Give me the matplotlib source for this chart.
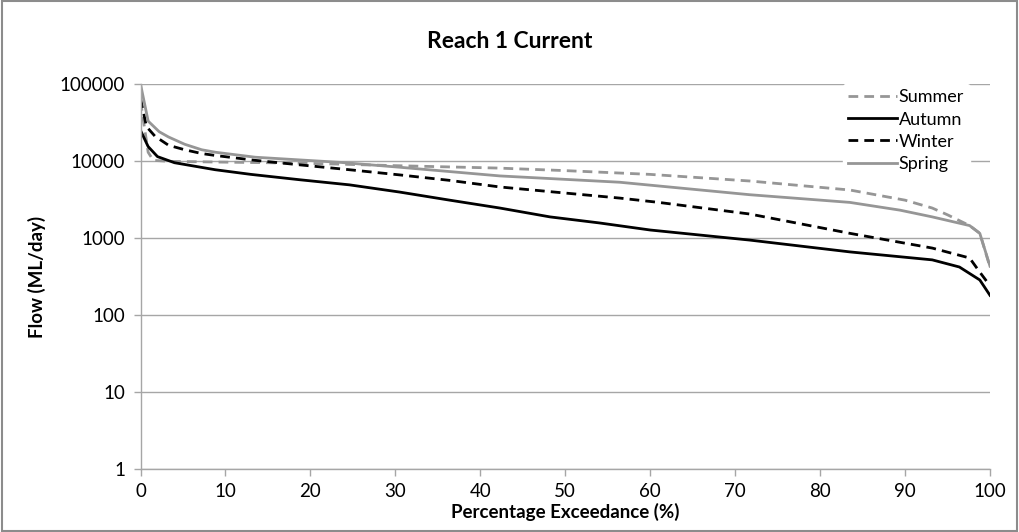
import matplotlib
matplotlib.use("Agg")
import matplotlib.pyplot as plt
from matplotlib.patches import Rectangle
from matplotlib.ticker import FixedLocator, FixedFormatter

plt.rcParams['font.family'] = ['Lato', 'DejaVu Sans']

# Flow duration curves (x = % exceedance, y = ML/day)
summer_x = [0, 0.9, 1.5, 3.3, 8.8, 15, 20, 23.5, 30, 42, 50, 60, 71.7, 83.5, 90, 93.2, 95, 97.6, 98.8, 100]
summer_y = [60000, 13000, 10200, 9900, 9700, 9500, 9300, 9100, 8700, 8100, 7500, 6700, 5500, 4200, 3100, 2450, 2000, 1450, 1150, 420]

autumn_x = [0, 0.9, 2, 4, 8.8, 13, 18.8, 24.6, 30.5, 36.4, 42.3, 48.2, 54, 60, 71.7, 83.5, 93.2, 96.4, 98.8, 100]
autumn_y = [25000, 15400, 11400, 9500, 7700, 6700, 5700, 4900, 3950, 3100, 2450, 1880, 1570, 1270, 940, 660, 520, 420, 285, 180]

winter_x = [0, 0.7, 1.7, 3.3, 5.2, 7.2, 8.8, 13.5, 18.8, 24.6, 30.5, 36.4, 42.3, 48.2, 56.4, 61, 71.7, 83.5, 93.2, 97.6, 98.8, 100]
winter_y = [65000, 28000, 21000, 16000, 14000, 12500, 11800, 10200, 8900, 7700, 6600, 5600, 4600, 4000, 3300, 2900, 2050, 1150, 740, 550, 360, 240]

spring_x = [0, 0.9, 2.2, 3.3, 5.2, 7.2, 8.8, 13.5, 23.5, 30.5, 42.3, 56.4, 71.7, 83.5, 89.4, 93.2, 97.6, 98.8, 100]
spring_y = [100000, 33000, 24000, 20500, 16500, 14000, 13000, 11200, 9600, 8300, 6400, 5300, 3650, 2900, 2300, 1880, 1450, 1150, 430]

x_ticks = [0, 10, 20, 30, 40, 50, 60, 70, 80, 90, 100]
y_ticks = [1, 10, 100, 1000, 10000, 100000]

grey = '#969696'

fig = plt.figure(figsize=(10.19, 5.32), dpi=100)
ax = fig.add_axes([140.5 / 1019, 1 - 469 / 532, (990 - 140.5) / 1019, (469 - 84) / 532])

ax.plot(summer_x, summer_y, color=grey, lw=2.0, dashes=(3.5, 2.2), label='Summer')
ax.plot(autumn_x, autumn_y, color='black', lw=2.0, label='Autumn')
ax.plot(winter_x, winter_y, color='black', lw=2.0, dashes=(3.5, 2.2), label='Winter')
ax.plot(spring_x, spring_y, color=grey, lw=2.0, label='Spring')

ax.set_yscale('log')
ax.set_xlim(0, 100)
ax.set_ylim(1, 100000)
ax.xaxis.set_major_locator(FixedLocator(x_ticks))
ax.yaxis.set_major_locator(FixedLocator(y_ticks))
ax.yaxis.set_major_formatter(FixedFormatter([str(v) for v in y_ticks]))
ax.yaxis.set_minor_locator(FixedLocator([]))
ax.tick_params(axis='both', labelsize=13.5, color='#a6a6a6', length=5, width=1, direction='out')
ax.tick_params(axis='y', pad=6)
ax.tick_params(axis='x', pad=5)
ax.grid(axis='y', color='#a6a6a6', lw=1)
ax.set_axisbelow(True)
for side in ['top', 'right']:
    ax.spines[side].set_visible(False)
for side in ['left', 'bottom']:
    ax.spines[side].set_color('#a6a6a6')
    ax.spines[side].set_linewidth(1)

ax.set_xlabel('Percentage Exceedance (%)', fontsize=13.5, fontweight='bold', labelpad=2)
ax.set_ylabel('Flow (ML/day)', fontsize=13.5, fontweight='bold', labelpad=10)
fig.text(0.5, 1 - 41 / 532, 'Reach 1 Current', ha='center', va='center', fontsize=16.5, fontweight='bold')

leg = ax.legend(loc='upper right', bbox_to_anchor=(0.976, 1.0), fontsize=13, frameon=True,
                handlelength=2.7, handletextpad=0.1, labelspacing=0.34, borderaxespad=0, borderpad=0.3)
leg.get_frame().set_facecolor('white')
leg.get_frame().set_edgecolor('white')
leg.get_frame().set_alpha(1)

# outer chart border
fig.patches.append(Rectangle((0.002, 0.002), 0.996, 0.996, transform=fig.transFigure,
                             fill=False, edgecolor='#8c8c8c', lw=1.5))

fig.savefig('out.png', dpi=100)
